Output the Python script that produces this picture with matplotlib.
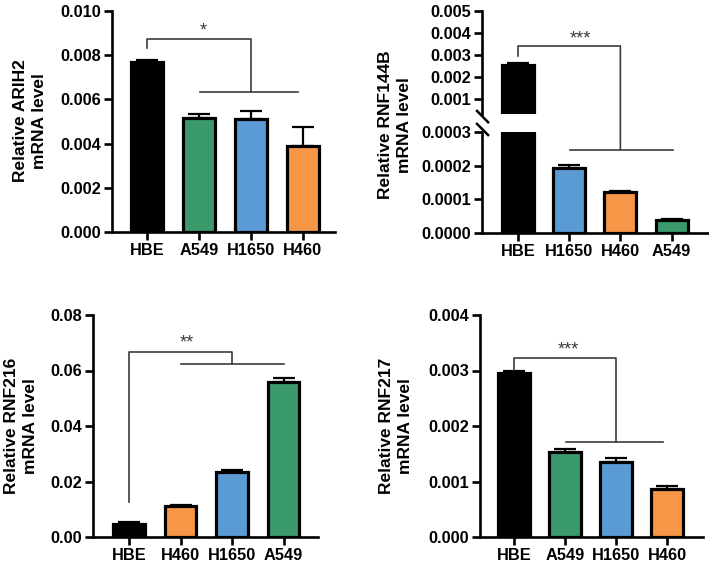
import matplotlib.pyplot as plt
from matplotlib.patches import ConnectionPatch
from matplotlib.ticker import FormatStrFormatter

plt.rcParams['font.family'] = ['Liberation Sans', 'DejaVu Sans']
plt.rcParams['font.weight'] = 'bold'

# colours per cell line
line_colors = {'HBE': '#000000', 'A549': '#3a9a6b', 'H1650': '#5b9bd5', 'H460': '#f79646'}

# ARIH2
arih2_labels = ['HBE', 'A549', 'H1650', 'H460']
arih2_mean = [0.0077, 0.00514, 0.0051, 0.0039]
arih2_err = [0.0001, 0.00018, 0.00037, 0.00086]

# RNF144B (broken axis)
rnf144b_labels = ['HBE', 'H1650', 'H460', 'A549']
rnf144b_mean = [0.00255, 0.000194, 0.000121, 0.000039]
rnf144b_err = [0.00009, 0.000007, 0.000003, 0.000003]

# RNF216
rnf216_labels = ['HBE', 'H460', 'H1650', 'A549']
rnf216_mean = [0.0047, 0.0113, 0.0233, 0.056]
rnf216_err = [0.0006, 0.0003, 0.0007, 0.0014]

# RNF217
rnf217_labels = ['HBE', 'A549', 'H1650', 'H460']
rnf217_mean = [0.00295, 0.00153, 0.00135, 0.000865]
rnf217_err = [0.00004, 0.00005, 0.00007, 0.000055]

W, H = 709, 568
fig = plt.figure(figsize=(W / 100, H / 100), dpi=100)

SPINE_W = 1.9
TICK_FS = 11.8
BRACKET_C = '#3c3c3c'
STAR_FS = 13


def px_axes(left, top, right, bottom):
    return fig.add_axes([left / W, 1 - bottom / H, (right - left) / W, (bottom - top) / H])


def style(ax, show_bottom=True):
    ax.spines['top'].set_visible(False)
    ax.spines['right'].set_visible(False)
    ax.spines['left'].set_linewidth(SPINE_W)
    ax.spines['bottom'].set_linewidth(SPINE_W)
    if not show_bottom:
        ax.spines['bottom'].set_visible(False)
        ax.tick_params(axis='x', bottom=False, labelbottom=False)
    ax.tick_params(width=SPINE_W, length=6, labelsize=TICK_FS, pad=2)
    for lab in ax.get_xticklabels() + ax.get_yticklabels():
        lab.set_fontweight('bold')


def draw_bars(ax, labels, means, errs, floor=None):
    xs = list(range(len(labels)))
    keep = [i for i in xs if floor is None or means[i] > floor]
    ax.bar([xs[i] for i in keep], [means[i] for i in keep], width=0.62,
           color=[line_colors[labels[i]] for i in keep],
           edgecolor='black', linewidth=2.3, zorder=3)
    ax.errorbar([xs[i] for i in keep], [means[i] for i in keep],
                yerr=[[0] * len(keep), [errs[i] for i in keep]], fmt='none', ecolor='black',
                elinewidth=1.6, capsize=8, capthick=1.6, zorder=2)
    ax.set_xticks(xs)
    ax.set_xticklabels(labels)


def bracket(ax, y_top, y_left, x_mid, y_low, x1, x2, star, star_x):
    kw = dict(color=BRACKET_C, lw=1.2, clip_on=False, zorder=5)
    ax.plot([0, 0, x_mid, x_mid], [y_left, y_top, y_top, y_low], **kw)
    ax.plot([x1, x2], [y_low, y_low], **kw)
    ax.text(star_x, y_top, star, ha='left', va='bottom', fontsize=STAR_FS,
            fontweight='normal', color=BRACKET_C)


# ---- panel 1: ARIH2
ax1 = px_axes(112, 11, 335, 232)
draw_bars(ax1, arih2_labels, arih2_mean, arih2_err)
ax1.set_ylim(0, 0.010)
ax1.set_yticks([0, 0.002, 0.004, 0.006, 0.008, 0.010])
ax1.yaxis.set_major_formatter(FormatStrFormatter('%.3f'))
ax1.set_xlim(-0.67, 3.62)
style(ax1)
bracket(ax1, 0.00873, 0.00833, 2, 0.00633, 1.02, 2.9, '*', 1.02)

# ---- panel 2: RNF144B, broken y axis
ax2t = px_axes(482, 11, 708, 114)
ax2b = px_axes(482, 132, 708, 233)
draw_bars(ax2t, rnf144b_labels, rnf144b_mean, rnf144b_err, floor=0.0003)
draw_bars(ax2b, rnf144b_labels, rnf144b_mean, rnf144b_err)
for a in (ax2t, ax2b):
    a.set_xlim(-0.70, 3.71)
ax2t.set_ylim(0.0003, 0.005)
ax2t.set_yticks([0.001, 0.002, 0.003, 0.004, 0.005])
ax2t.yaxis.set_major_formatter(FormatStrFormatter('%.3f'))
ax2b.set_ylim(0, 0.0003)
ax2b.set_yticks([0, 0.0001, 0.0002, 0.0003])
ax2b.yaxis.set_major_formatter(FormatStrFormatter('%.4f'))
style(ax2t, show_bottom=False)
style(ax2b)
ax2b.spines['top'].set_visible(False)

# break marks
mk = dict(color='black', lw=1.8, clip_on=False, transform=ax2t.transAxes)
ax2t.plot([-0.022, 0.027], [0.03, -0.08], **mk)
mk['transform'] = ax2b.transAxes
ax2b.plot([-0.022, 0.027], [1.08, 0.97], **mk)

# bracket across the break
kw = dict(color=BRACKET_C, lw=1.2, clip_on=False, zorder=5)
ax2t.plot([0, 0, 2], [0.00294, 0.00339, 0.00339], **kw)
con = ConnectionPatch(xyA=(2, 0.00339), coordsA=ax2t.transData,
                      xyB=(2, 0.000247), coordsB=ax2b.transData,
                      color=BRACKET_C, lw=1.2, zorder=5)
fig.add_artist(con)
ax2b.plot([1.02, 3.02], [0.000247, 0.000247], **kw)
ax2t.text(1.02, 0.00335, '***', ha='left', va='bottom', fontsize=STAR_FS,
          fontweight='normal', color=BRACKET_C)

# ---- panel 3: RNF216
ax3 = px_axes(93, 315, 318, 537)
draw_bars(ax3, rnf216_labels, rnf216_mean, rnf216_err)
ax3.set_ylim(0, 0.08)
ax3.set_yticks([0, 0.02, 0.04, 0.06, 0.08])
ax3.yaxis.set_major_formatter(FormatStrFormatter('%.2f'))
ax3.set_xlim(-0.70, 3.67)
style(ax3)
bracket(ax3, 0.0668, 0.0127, 2, 0.0623, 1.0, 3.0, '**', 0.98)

# ---- panel 4: RNF217
ax4 = px_axes(480, 315, 703, 537)
draw_bars(ax4, rnf217_labels, rnf217_mean, rnf217_err)
ax4.set_ylim(0, 0.004)
ax4.set_yticks([0, 0.001, 0.002, 0.003, 0.004])
ax4.yaxis.set_major_formatter(FormatStrFormatter('%.3f'))
ax4.set_xlim(-0.66, 3.70)
style(ax4)
bracket(ax4, 0.00322, 0.00301, 2, 0.00172, 1.03, 2.92, '***', 0.85)

# y labels
ylab = dict(rotation=90, ha='center', va='center', fontsize=12.5, fontweight='bold',
            linespacing=1.4, multialignment='center')
fig.text(30 / W, 1 - 121 / H, 'Relative ARIH2\nmRNA level', **ylab)
fig.text(395 / W, 1 - 125 / H, 'Relative RNF144B\nmRNA level', **ylab)
fig.text(21 / W, 1 - 426 / H, 'Relative RNF216\nmRNA level', **ylab)
fig.text(396 / W, 1 - 426 / H, 'Relative RNF217\nmRNA level', **ylab)

fig.savefig('out.png', dpi=100, facecolor='white')
